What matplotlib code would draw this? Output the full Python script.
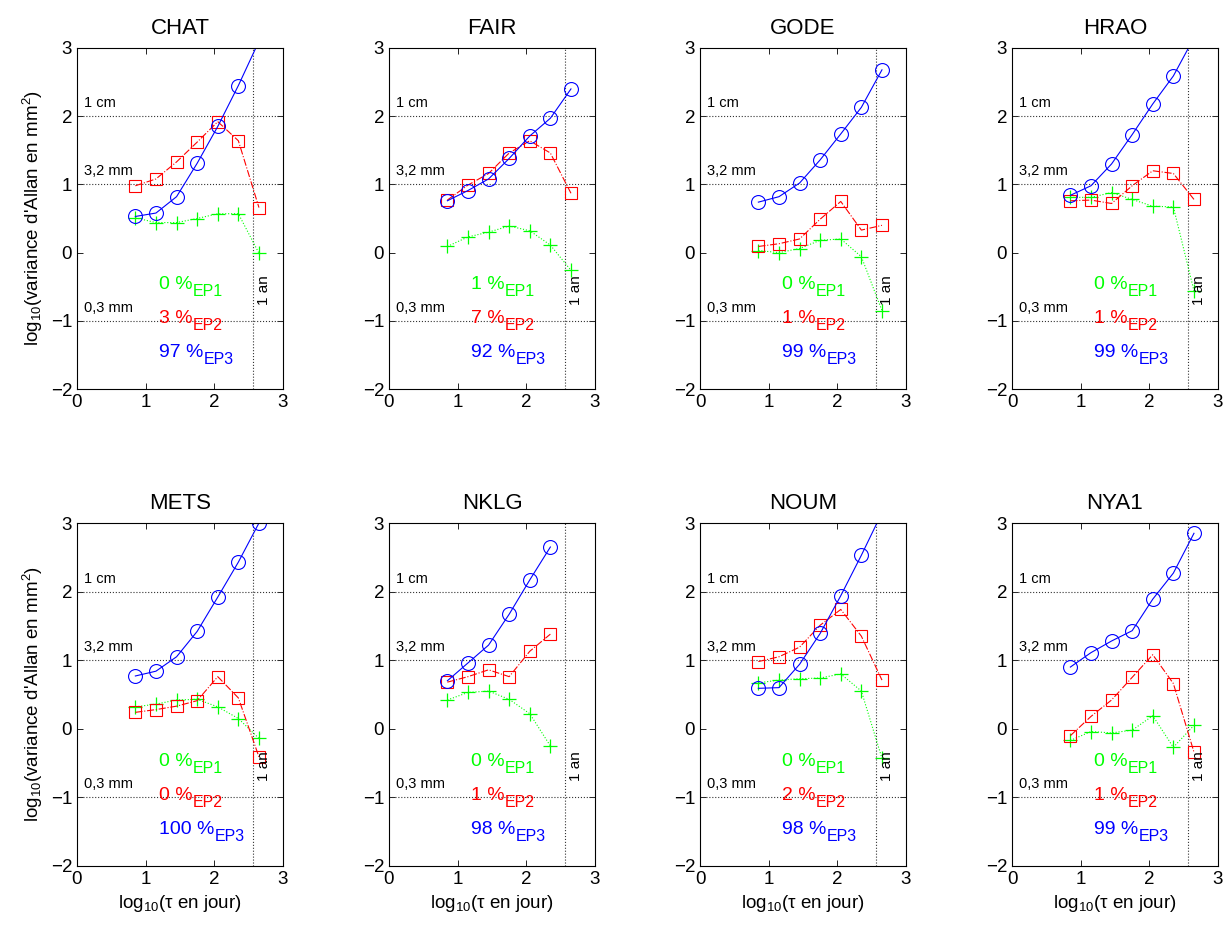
import numpy as np
import matplotlib
matplotlib.use('Agg')
import matplotlib.pyplot as plt

plt.rcParams['font.family'] = ['Liberation Sans', 'DejaVu Sans']
plt.rcParams['mathtext.fontset'] = 'custom'
plt.rcParams['mathtext.rm'] = 'Liberation Sans'
plt.rcParams['mathtext.it'] = 'Liberation Sans'

# log10 of tau (days)
tau = [0.85, 1.15, 1.45, 1.75, 2.05, 2.35, 2.65]

stations = ['CHAT', 'FAIR', 'GODE', 'HRAO', 'METS', 'NKLG', 'NOUM', 'NYA1']

# EP3 (blue circles)
ep3 = {
    'CHAT': [0.53, 0.58, 0.82, 1.31, 1.85, 2.45, 3.1],
    'FAIR': [0.76, 0.91, 1.08, 1.38, 1.71, 1.97, 2.40],
    'GODE': [0.74, 0.82, 1.02, 1.36, 1.74, 2.13, 2.68],
    'HRAO': [0.84, 0.98, 1.30, 1.73, 2.18, 2.59, 3.15],
    'METS': [0.77, 0.84, 1.05, 1.42, 1.92, 2.43, 3.0],
    'NKLG': [0.70, 0.96, 1.22, 1.67, 2.17, 2.65],
    'NOUM': [0.59, 0.60, 0.94, 1.39, 1.94, 2.53, 3.15],
    'NYA1': [0.90, 1.11, 1.28, 1.43, 1.89, 2.27, 2.85],
}
# EP2 (red squares)
ep2 = {
    'CHAT': [0.98, 1.08, 1.33, 1.62, 1.92, 1.64, 0.66],
    'FAIR': [0.77, 0.99, 1.16, 1.46, 1.64, 1.46, 0.87],
    'GODE': [0.09, 0.13, 0.20, 0.49, 0.75, 0.33, 0.40],
    'HRAO': [0.76, 0.77, 0.72, 0.98, 1.20, 1.16, 0.78],
    'METS': [0.24, 0.28, 0.33, 0.41, 0.76, 0.45, -0.41],
    'NKLG': [0.68, 0.76, 0.86, 0.76, 1.13, 1.38],
    'NOUM': [0.98, 1.05, 1.19, 1.51, 1.74, 1.35, 0.71],
    'NYA1': [-0.10, 0.18, 0.42, 0.75, 1.08, 0.66, -0.34],
}
# EP1 (green crosses)
ep1 = {
    'CHAT': [0.51, 0.44, 0.44, 0.50, 0.57, 0.57, -0.01],
    'FAIR': [0.09, 0.23, 0.30, 0.39, 0.32, 0.11, -0.26],
    'GODE': [0.03, 0.00, 0.06, 0.18, 0.20, -0.06, -0.85],
    'HRAO': [0.81, 0.81, 0.88, 0.78, 0.68, 0.67, -0.56],
    'METS': [0.32, 0.36, 0.42, 0.43, 0.32, 0.15, -0.14],
    'NKLG': [0.42, 0.53, 0.55, 0.43, 0.22, -0.25],
    'NOUM': [0.67, 0.71, 0.73, 0.74, 0.80, 0.55, -0.43],
    'NYA1': [-0.17, -0.04, -0.06, -0.02, 0.19, -0.27, 0.05],
}

pct1 = [0, 1, 0, 0, 0, 0, 0, 0]
pct2 = [3, 7, 1, 1, 0, 1, 2, 1]
pct3 = [97, 92, 99, 99, 100, 98, 98, 99]

ref_levels = [2, 1, -1]
ref_labels = ['1 cm', '3,2 mm', '0,3 mm']
one_year = np.log10(365)

fig = plt.figure(figsize=(12.26, 9.27), dpi=100)
W, H = 1226.0, 927.0
lefts = [77, 389, 700, 1012]
rows = [(48, 389), (523, 866)]

pct_texts = []  # (text artist, subscript, colour) -> subscripts placed after a draw

for i, st in enumerate(stations):
    r, c = divmod(i, 4)
    top, bot = rows[r]
    ax = fig.add_axes([lefts[c] / W, 1 - bot / H, 206 / W, (bot - top) / H])

    for lev, lab in zip(ref_levels, ref_labels):
        ax.axhline(lev, color='0.2', ls=':', lw=0.8)
        ax.text(0.1, lev + 0.19, lab, fontsize=10.5, va='center', ha='left')
    ax.axvline(one_year, color='0.2', ls=':', lw=0.8)
    ax.text(2.72, -0.55, '1 an', rotation=90, fontsize=11, va='center', ha='center')

    n = len(ep3[st])
    ax.plot(tau[:n], ep1[st], ls=':', color='#00ff00', lw=0.8,
            marker='+', ms=10, mew=0.9)
    ax.plot(tau[:n], ep2[st], ls='-.', color='red', lw=0.8,
            marker='s', ms=8, mfc='none', mew=0.8)
    ax.plot(tau[:n], ep3[st], ls='-', color='blue', lw=0.8,
            marker='o', ms=10, mfc='none', mew=0.8)

    for yy, p, sub, col in [(-0.47, pct1[i], 'EP1', '#00ff00'),
                            (-0.97, pct2[i], 'EP2', 'red'),
                            (-1.47, pct3[i], 'EP3', 'blue')]:
        t = ax.text(1.2, yy, '%d %%' % p, color=col, fontsize=14, va='center')
        pct_texts.append((t, sub, col))

    ax.set_xlim(0, 3)
    ax.set_ylim(-2, 3)
    ax.set_xticks([0, 1, 2, 3])
    ax.set_yticks([-2, -1, 0, 1, 2, 3])
    ax.set_yticklabels(['\u22122', '\u22121', '0', '1', '2', '3'])
    ax.tick_params(direction='in', top=True, right=True, labelsize=13.5, length=4, width=0.6)
    for s in ax.spines.values():
        s.set_linewidth(0.8)
    ax.set_title(st, fontsize=16, pad=10)
    if c == 0:
        ax.set_ylabel("log$_{10}$(variance d'Allan en mm$^2$)", fontsize=13.5)
    if r == 1:
        ax.set_xlabel('log$_{10}$($\\tau$ en jour)', fontsize=13.5)

# subscripts EP1/EP2/EP3 next to the percentages
fig.canvas.draw()
for t, sub, col in pct_texts:
    bb = t.get_window_extent()
    fig.text(bb.x1 / W, (bb.y0 - 6) / H, sub, color=col, fontsize=11.5,
             ha='left', va='bottom')

fig.savefig('out.png', dpi=100)
